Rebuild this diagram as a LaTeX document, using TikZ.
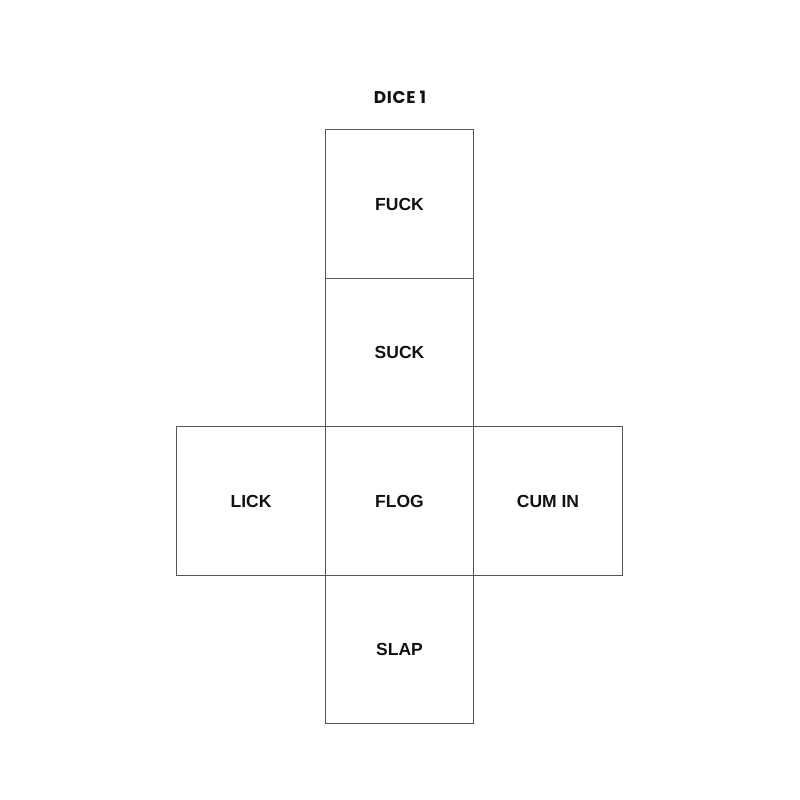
\documentclass[tikz,border=0pt]{standalone}
\usepackage{fontspec}
\setmainfont{Liberation Sans}
\newfontfamily\titlefont[LetterSpace=4]{Poppins}
\definecolor{edge}{HTML}{555555}
\definecolor{ink}{HTML}{111111}
\begin{document}
\begin{tikzpicture}[x=1pt,y=-1pt,
  face/.style={draw=edge,line width=1.2pt,minimum size=148.5pt,inner sep=0pt,anchor=center,
    font=\fontsize{17.5}{20}\selectfont\bfseries,text=ink},
  titlestyle/.style={font=\titlefont\fontsize{17}{20}\selectfont\bfseries,text=ink}]
\fill[white] (0,0) rectangle (800,800);
\useasboundingbox (0,0) rectangle (800,800);
\node[titlestyle] (title) at (400,97) {DICE 1};
\node[face] (top) at (399.5,204) {FUCK};
\node[face] (upper) at (399.5,352.5) {SUCK};
\node[face] (center) at (399.5,501) {FLOG};
\node[face] (left) at (251,501) {LICK};
\node[face] (right) at (548,501) {CUM IN};
\node[face] (bottom) at (399.5,649.5) {SLAP};
\end{tikzpicture}
\end{document}
